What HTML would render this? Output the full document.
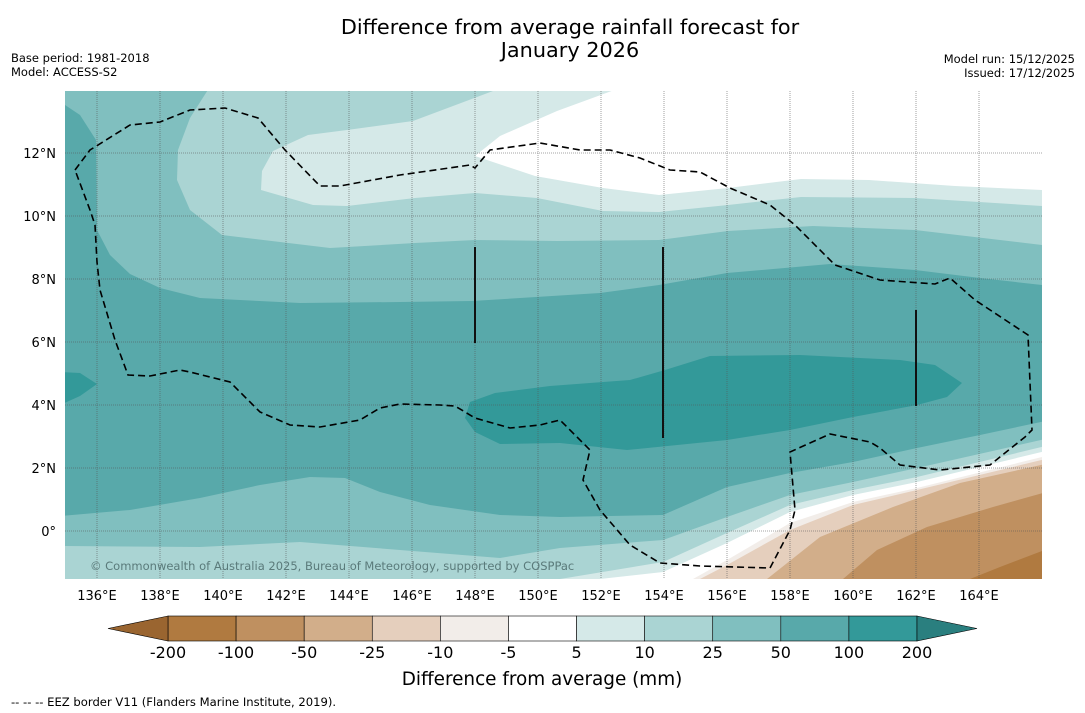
<!DOCTYPE html>
<html><head><meta charset="utf-8"><style>
body{margin:0;background:#fff;font-family:"DejaVu Sans","Liberation Sans",sans-serif}
svg{display:block}
</style></head><body>
<svg id="chart" width="1085" height="713" viewBox="0 0 1085 713" xmlns="http://www.w3.org/2000/svg">
<rect width="1085" height="713" fill="#fff"/>
<text x="570" y="34" font-size="20.8" text-anchor="middle" fill="#000">Difference from average rainfall forecast for</text>
<text x="570" y="57" font-size="20.8" text-anchor="middle" fill="#000">January 2026</text>
<text x="11" y="62" font-size="11.5">Base period: 1981-2018</text>
<text x="11" y="76" font-size="11.5">Model: ACCESS-S2</text>
<text x="1075" y="63" font-size="11.5" text-anchor="end">Model run: 15/12/2025</text>
<text x="1075" y="77" font-size="11.5" text-anchor="end">Issued: 17/12/2025</text>
<defs><clipPath id="mc"><rect x="65" y="91" width="977" height="488"/></clipPath></defs>
<g clip-path="url(#mc)">
<rect x="65" y="91" width="977" height="488" fill="#58a9aa"/>
<path fill="#80bfbf" d="M60,85 L1050,85 L1042,285 L980,278 L915,270 L830,264 L727,273 L659,285 L600,293 L472,301 L400,302 L300,303 L200,298 L160,288 L130,274 L110,255 L97,230 L96,140 L80,115 L65,105 Z"/>
<path fill="#aad4d3" d="M211,85 L1050,85 L1042,245 L915,230 L813,226 L728,231 L659,240 L557,241 L475,240 L415,243 L330,248 L222,235 L190,210 L177,180 L178,150 L190,118 Z"/>
<path fill="#d5e9e8" d="M509,85 L1050,85 L1042,206 L915,198 L801,197 L728,205 L659,212 L603,211 L537,198 L475,193 L415,198 L347,206 L313,205 L261,190 L262,171 L273,151 L308,135 L347,130 L413,121 Z"/>
<path fill="#ffffff" d="M628,85 L1050,85 L1042,190 L955,186 L869,180 L801,179 L728,188 L659,195 L603,188 L535,176 L475,156 L500,136 L557,111 Z"/>
<path fill="#339999" d="M470,402 L495,393 L550,386 L630,380 L665,370 L710,356 L800,355 L900,360 L935,365 L962,383 L947,397 L917,405 L853,417 L790,430 L727,440 L627,450 L560,443 L500,444 L475,432 L465,418 Z"/>
<path fill="#339999" d="M60,372 L80,373 L97,384 L80,396 L60,405 Z"/>
<path fill="#80bfbf" d="M60,516 L130,510 L200,498 L260,485 L310,477 L345,478 L380,492 L430,505 L500,515 L560,517 L663,515 L727,487 L790,473 L853,462 L917,448 L980,435 L1050,420 L1050,590 L60,590 Z"/>
<path fill="#aad4d3" d="M60,546 L200,547 L300,542 L400,550 L500,558 L560,548 L663,540 L727,517 L790,495 L853,482 L917,468 L1050,438 L1050,590 L60,590 Z"/>
<path fill="#d5e9e8" d="M560,590 L560,579 L663,562 L727,533 L790,505 L853,490 L917,477 L1050,445 L1050,590 Z"/>
<path fill="#ffffff" d="M600,590 L600,579 L663,572 L727,543 L790,512 L853,495 L917,482 L1050,450 L1050,590 Z"/>
<path fill="#f2ede9" d="M693,590 L693,579 L727,560 L790,523 L853,502 L917,488 L1050,455 L1050,590 Z"/>
<path fill="#e5cfbd" d="M700,590 L700,579 L727,565 L790,530 L853,505 L917,490 L1050,458 L1050,590 Z"/>
<path fill="#d2ae8a" d="M767,590 L767,579 L820,537 L893,507 L960,483 L1050,463 L1050,590 Z"/>
<path fill="#bf9060" d="M843,590 L843,579 L877,550 L927,527 L993,507 L1050,491 L1050,590 Z"/>
<path fill="#b07a40" d="M970,590 L970,579 L1000,567 L1050,548 L1050,590 Z"/>
<g id="grid" stroke="#555" stroke-width="0.8" stroke-dasharray="1,1" opacity="0.7"></g>
<path fill="none" stroke="#000" stroke-width="1.6" stroke-dasharray="7,4" d="M75,170 L90,150 L130,125 L160,122 L190,110 L225,108 L258,118 L285,150 L320,186 L340,186 L400,175 L470,165 L475,168 L490,150 L540,143 L580,150 L610,150 L640,158 L670,170 L700,172 L730,188 L770,205 L795,225 L835,265 L880,280 L935,284 L950,278 L975,300 L1028,335 L1032,430 L1025,437 L990,465 L940,470 L900,465 L880,448 L870,442 L830,434 L790,452 L795,510 L790,530 L770,568 L700,566 L660,563 L630,545 L600,510 L583,480 L590,450 L575,435 L560,420 L540,425 L510,428 L475,418 L455,406 L440,405 L400,404 L380,408 L360,420 L320,427 L290,425 L260,412 L230,382 L190,372 L180,370 L150,376 L128,375 L115,340 L100,290 L97,262 L95,225 L90,210 Z"/>
<line x1="475" y1="247" x2="475" y2="343" stroke="#111" stroke-width="2"/>
<line x1="663" y1="247" x2="663" y2="438" stroke="#111" stroke-width="2"/>
<line x1="916" y1="310" x2="916" y2="406" stroke="#111" stroke-width="2"/>
<text x="90" y="570" font-size="11.5" fill="#5a7a7a">© Commonwealth of Australia 2025, Bureau of Meteorology, supported by COSPPac</text>
</g>
<g id="axes" font-size="13" fill="#000"></g>
<g id="cbar"></g>
<text x="542" y="685" font-size="18.4" text-anchor="middle">Difference from average (mm)</text>
<text x="11" y="706" font-size="11.6">-- -- -- EEZ border V11 (Flanders Marine Institute, 2019).</text>
</svg>
<script>
const lonTicks=[136,138,140,142,144,146,148,150,152,154,156,158,160,162,164];
const latTicks=[0,2,4,6,8,10,12];
const cbLevels=[-200,-100,-50,-25,-10,-5,5,10,25,50,100,200];
const cbColors=["#b07a40","#bf9060","#d2ae8a","#e5cfbd","#f2ede9","#ffffff","#d5e9e8","#aad4d3","#80bfbf","#58a9aa","#339999"];
const cbExtLow="#9a6530", cbExtHigh="#2a7f7f";
const NS="http://www.w3.org/2000/svg";
const xLon=l=>97+(l-136)*31.5;
const yLat=l=>531-l*31.5;
const grid=document.getElementById('grid');
const axes=document.getElementById('axes');
lonTicks.forEach(l=>{
  const ln=document.createElementNS(NS,'line');
  
  
  ln.setAttribute('x1',xLon(l));ln.setAttribute('x2',xLon(l));ln.setAttribute('y1',91);ln.setAttribute('y2',579);
  grid.appendChild(ln);
  const t=document.createElementNS(NS,'text');
  
  
  t.setAttribute('x',xLon(l));t.setAttribute('y',600);t.setAttribute('text-anchor','middle');
  t.textContent=l+'°E';axes.appendChild(t);
});
latTicks.forEach(l=>{
  const ln=document.createElementNS(NS,'line');
  
  
  ln.setAttribute('x1',65);ln.setAttribute('x2',1042);ln.setAttribute('y1',yLat(l));ln.setAttribute('y2',yLat(l));
  grid.appendChild(ln);
  const t=document.createElementNS(NS,'text');
  
  
  t.setAttribute('x',56);t.setAttribute('y',yLat(l)+5);t.setAttribute('text-anchor','end');
  t.textContent=l===0?'0°':l+'°N';axes.appendChild(t);
});
const cb=document.getElementById('cbar');
const x0=168,x1=917,y0=616,h=25,w=(x1-x0)/cbColors.length;
cbColors.forEach((c,i)=>{
  const r=document.createElementNS(NS,'rect');
  
  
  r.setAttribute('x',x0+i*w);r.setAttribute('y',y0);r.setAttribute('width',w);r.setAttribute('height',h);
  r.setAttribute('fill',c);r.setAttribute('stroke','#000');r.setAttribute('stroke-width','0.6');
  cb.appendChild(r);
});
const tl=document.createElementNS(NS,'polygon');


tl.setAttribute('points',`${x0},${y0} 108,${y0+h/2} ${x0},${y0+h}`);tl.setAttribute('fill',cbExtLow);tl.setAttribute('stroke','#000');tl.setAttribute('stroke-width','0.6');
cb.appendChild(tl);
const tr=document.createElementNS(NS,'polygon');


tr.setAttribute('points',`${x1},${y0} 977,${y0+h/2} ${x1},${y0+h}`);tr.setAttribute('fill',cbExtHigh);tr.setAttribute('stroke','#000');tr.setAttribute('stroke-width','0.6');
cb.appendChild(tr);
cbLevels.forEach((v,i)=>{
  const t=document.createElementNS(NS,'text');
  
  
  t.setAttribute('x',x0+i*w);t.setAttribute('y',658);t.setAttribute('text-anchor','middle');t.setAttribute('font-size','16');
  t.textContent=v;cb.appendChild(t);
});
</script>
</body></html>
